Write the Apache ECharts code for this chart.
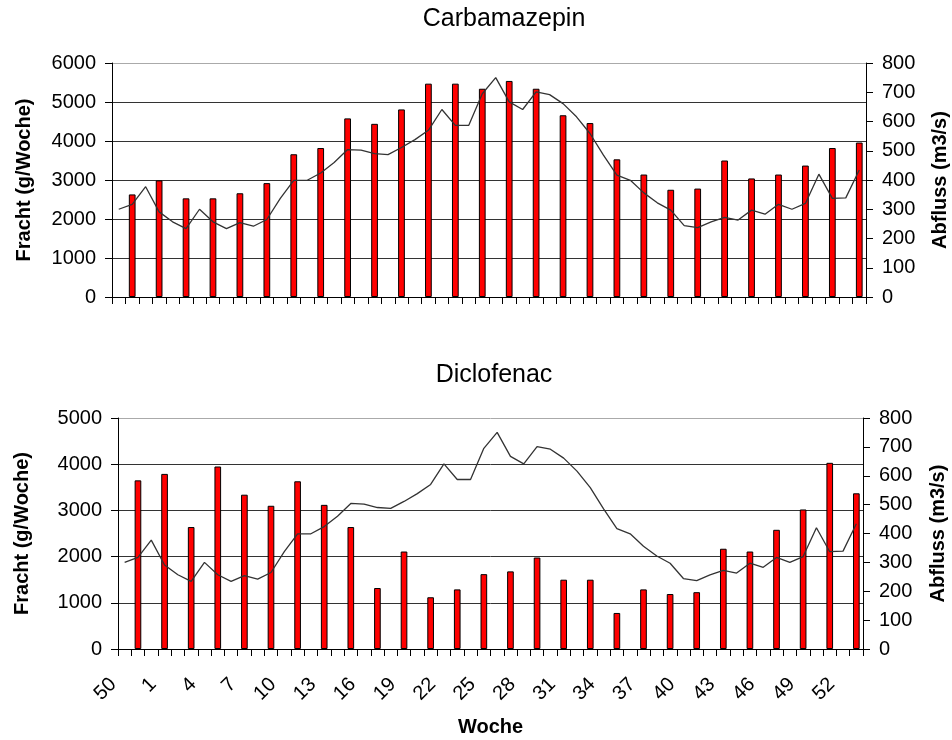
<!DOCTYPE html>
<html lang="de">
<head>
    <meta charset="utf-8">
    <title>Carbamazepin / Diclofenac</title>
    <script src="https://cdn.jsdelivr.net/npm/echarts@6.0.0/dist/echarts.min.js"></script>
    <style>
        html, body { margin: 0; padding: 0; background: #fff; }
        #chart { width: 952px; height: 740px; }
    </style>
</head>
<body>
    <div id="chart"></div>
    <script>
        // Kalenderwochen (50/2003 bis 53/2004)
        const weeks = [50, 51, 52, 1, 2, 3, 4, 5, 6, 7, 8, 9, 10, 11, 12, 13, 14, 15, 16, 17, 18,
            19, 20, 21, 22, 23, 24, 25, 26, 27, 28, 29, 30, 31, 32, 33, 34, 35, 36, 37, 38, 39,
            40, 41, 42, 43, 44, 45, 46, 47, 48, 49, 50, 51, 52, 53];

        // Fracht nur in jeder zweiten Woche gemessen
        const sampleWeeks = [51, 1, 3, 5, 7, 9, 11, 13, 15, 17, 19, 21, 23, 25, 27, 29, 31, 33,
            35, 37, 39, 41, 43, 45, 47, 49, 51, 53];
        const carbamazepin = [2630, 2990, 2530, 2530, 2660, 2920, 3660, 3820, 4580, 4440, 4810,
            5470, 5470, 5340, 5540, 5340, 4660, 4460, 3530, 3140, 2750, 2780, 3500, 3040, 3140,
            3370, 3820, 3960];
        const diclofenac = [3650, 3790, 2640, 3950, 3340, 3100, 3630, 3120, 2640, 1320, 2110,
            1120, 1290, 1620, 1680, 1980, 1500, 1500, 780, 1290, 1190, 1230, 2170, 2110, 2580,
            3020, 4030, 3370];

        // Abfluss (m3/s), woechentlich
        const abfluss = [300, 317, 377, 291, 257, 234, 300, 257, 234, 254, 242, 265, 337, 399,
            399, 424, 460, 504, 502, 490, 487, 511, 538, 570, 641, 587, 587, 695, 750, 667, 641,
            701, 692, 661, 616, 559, 485, 417, 399, 356, 322, 297, 244, 237, 257, 272, 263, 297,
            283, 317, 300, 320, 420, 337, 339, 434];

        const font = 'Liberation Sans, Arial, sans-serif';
        const black = '#000';

        // Messwerte auf die ungeraden Kategorien legen (jede zweite Woche)
        function toWeekly(values) {
            return weeks.map((w, i) => (i % 2 === 1 ? values[(i - 1) / 2] : null));
        }

        function xAxisFor(gridIndex, showLabels) {
            return {
                type: 'category',
                gridIndex: gridIndex,
                data: weeks.map(String),
                boundaryGap: true,
                axisLine: { lineStyle: { color: black, width: 1 } },
                axisTick: { show: true, interval: 0, length: 7, lineStyle: { color: black } },
                axisLabel: {
                    show: showLabels,
                    interval: 2,
                    rotate: 45,
                    margin: 21,
                    padding: [0, 16, 0, 0],
                    fontSize: 20,
                    color: black,
                    fontFamily: font
                },
                name: showLabels ? 'Woche' : '',
                nameLocation: 'middle',
                nameGap: 68,
                nameTextStyle: { fontSize: 20, fontWeight: 'bold', color: black, fontFamily: font }
            };
        }

        function leftAxis(gridIndex, max, gap) {
            const n = max / 1000;
            const lineColors = [];
            for (let k = 0; k <= n; k++) lineColors.push(k === n ? '#aaa' : '#333');
            return {
                type: 'value',
                gridIndex: gridIndex,
                min: 0,
                max: max,
                interval: 1000,
                position: 'left',
                name: 'Fracht (g/Woche)',
                nameLocation: 'middle',
                nameRotate: 90,
                nameGap: gap,
                nameTextStyle: { fontSize: 20, fontWeight: 'bold', color: black, fontFamily: font },
                axisLine: { show: true, lineStyle: { color: black } },
                axisTick: { show: true, length: 7, lineStyle: { color: black } },
                axisLabel: {
                    fontSize: 20, color: black, margin: 16, fontFamily: font,
                    formatter: v => String(v)
                },
                splitLine: { show: true, lineStyle: { color: lineColors, width: 1 } }
            };
        }

        function rightAxis(gridIndex, gap) {
            return {
                type: 'value',
                gridIndex: gridIndex,
                min: 0,
                max: 800,
                interval: 100,
                position: 'right',
                name: 'Abfluss (m3/s)',
                nameLocation: 'middle',
                nameRotate: 90,
                nameGap: gap,
                nameTextStyle: { fontSize: 20, fontWeight: 'bold', color: black, fontFamily: font },
                axisLine: { show: true, lineStyle: { color: black } },
                axisTick: { show: true, length: 7, lineStyle: { color: black } },
                axisLabel: {
                    fontSize: 20, color: black, margin: 16, fontFamily: font,
                    formatter: v => String(v)
                },
                splitLine: { show: false }
            };
        }

        function barSeries(name, values, axisIdx) {
            return {
                name: name,
                type: 'bar',
                xAxisIndex: axisIdx,
                yAxisIndex: axisIdx * 2,
                data: toWeekly(values),
                barWidth: '50%',
                itemStyle: { color: '#ff0000', borderColor: '#000', borderWidth: 1 },
                silent: true,
                z: 2
            };
        }

        function lineSeries(axisIdx) {
            return {
                name: 'Abfluss',
                type: 'line',
                xAxisIndex: axisIdx,
                yAxisIndex: axisIdx * 2 + 1,
                data: abfluss,
                showSymbol: false,
                symbol: 'none',
                lineStyle: { color: '#333', width: 1.3 },
                silent: true,
                z: 3
            };
        }

        const chart = echarts.init(document.getElementById('chart'), null, { renderer: 'canvas' });

        chart.setOption({
            backgroundColor: '#fff',
            animation: false,
            title: [
                {
                    text: 'Carbamazepin',
                    left: 504, top: 7, padding: 0, textAlign: 'center',
                    textStyle: { fontSize: 25, fontWeight: 'normal', color: black, fontFamily: font }
                },
                {
                    text: 'Diclofenac',
                    left: 494, top: 363, padding: 0, textAlign: 'center',
                    textStyle: { fontSize: 25, fontWeight: 'normal', color: black, fontFamily: font }
                }
            ],
            grid: [
                { left: 112, right: 86, top: 63, height: 234, outerBoundsMode: 'none' },
                { left: 118, right: 89, top: 418, height: 231, outerBoundsMode: 'none' }
            ],
            xAxis: [xAxisFor(0, false), xAxisFor(1, true)],
            yAxis: [
                leftAxis(0, 6000, 78), rightAxis(0, 64),
                leftAxis(1, 5000, 86), rightAxis(1, 65)
            ],
            series: [
                barSeries('Carbamazepin', carbamazepin, 0),
                lineSeries(0),
                barSeries('Diclofenac', diclofenac, 1),
                lineSeries(1)
            ]
        });

        window.addEventListener('resize', () => chart.resize());
    </script>
</body>
</html>
